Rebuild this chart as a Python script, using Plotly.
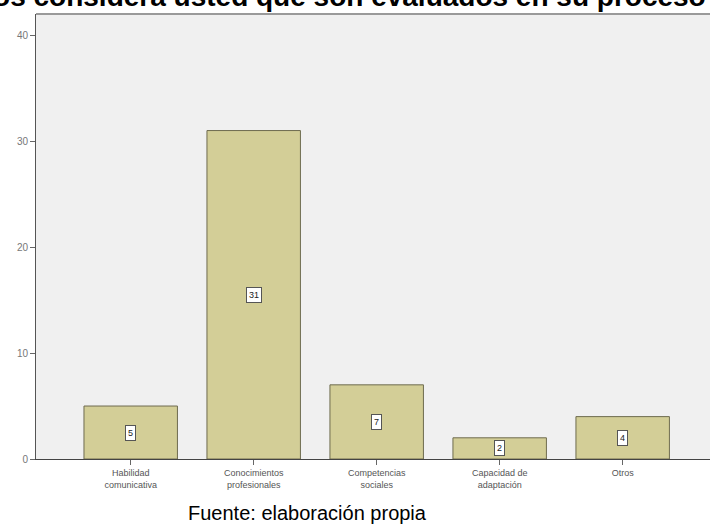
import plotly.graph_objects as go

categories = ["Habilidad<br>comunicativa", "Conocimientos<br>profesionales",
              "Competencias<br>sociales", "Capacidad de<br>adaptación", "Otros"]
counts = [5, 31, 7, 2, 4]
y_ticks = [0, 10, 20, 30, 40]
title_text = "¿Qué aspectos considera usted que son evaluados en su proceso de selección?"
source_text = "Fuente: elaboración propia"

xpos = list(range(len(categories)))

fig = go.Figure()
fig.add_trace(go.Bar(
    x=xpos, y=counts, width=0.76,
    marker=dict(color="#D3CE97", line=dict(color="#6E6B4F", width=1)),
    hoverinfo="skip",
))

for xi, v in zip(xpos, counts):
    fig.add_annotation(
        x=xi, y=v / 2, xref="x", yref="y", text=str(v), showarrow=False,
        font=dict(family="Arial", size=9, color="#222"),
        bgcolor="white", bordercolor="#555", borderwidth=1, borderpad=2,
    )

# title (partially cut off at the top, as in the reference image)
fig.add_annotation(
    x=(-177 - 36) / 674, y=1.0, xref="paper", yref="paper",
    xanchor="left", yanchor="bottom", yshift=0,
    text="<b>" + title_text + "</b>", showarrow=False,
    font=dict(family="Arial", size=28, color="black"),
)
# source caption
fig.add_annotation(
    x=(307 - 36) / 674, y=(459 - 513) / 445, xref="paper", yref="paper",
    xanchor="center", yanchor="middle",
    text=source_text, showarrow=False,
    font=dict(family="Arial", size=20, color="black"),
)
# top frame line
fig.add_shape(type="line", xref="paper", yref="paper", x0=0, x1=1, y0=1, y1=1,
              line=dict(color="#9a9a9a", width=2))

fig.update_layout(
    width=710, height=529,
    margin=dict(l=36, r=0, t=14, b=70),
    paper_bgcolor="white", plot_bgcolor="#F0F0F0",
    showlegend=False, bargap=0.24,
    font=dict(family="Arial"),
)
fig.update_xaxes(
    range=[-0.77, 4.71], tickvals=xpos, ticktext=categories,
    showline=True, linecolor="#444", linewidth=1,
    ticks="outside", ticklen=5, tickcolor="#666",
    tickfont=dict(size=9, color="#555"), showgrid=False, zeroline=False,
)
fig.update_yaxes(
    range=[0, 42], tickvals=y_ticks,
    showline=True, linecolor="#555", linewidth=1,
    ticks="outside", ticklen=5, tickcolor="#666",
    tickfont=dict(size=10, color="#777"), showgrid=False, zeroline=False,
)

fig.write_html("out.html", config={"displayModeBar": False},
               post_script="document.body.style.margin='0';document.body.style.overflow='hidden';")
